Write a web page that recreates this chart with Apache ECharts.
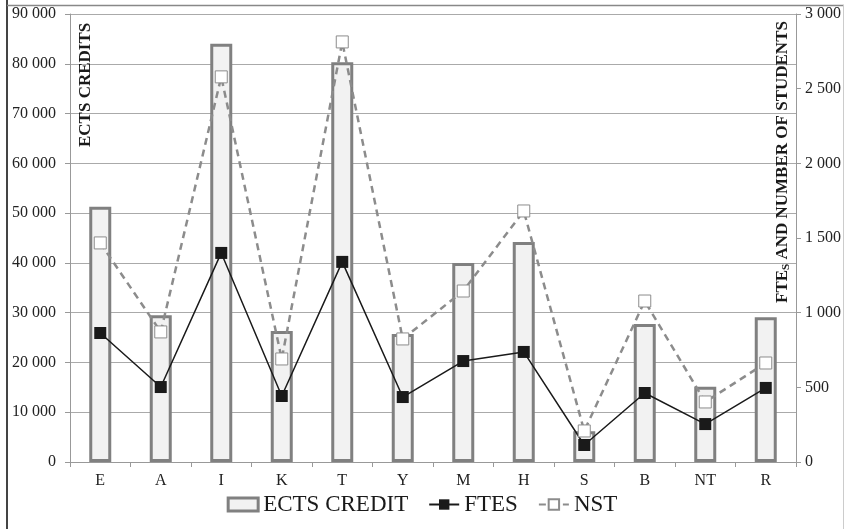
<!DOCTYPE html>
<html><head><meta charset="utf-8">
<script src="https://cdn.jsdelivr.net/npm/echarts@6/dist/echarts.min.js"></script>
<style>html,body{margin:0;padding:0;background:#fff}#c{width:844px;height:529px}</style>
</head><body><div id="c"></div>
<script>
const categories = ['E','A','I','K','T','Y','M','H','S','B','NT','R'];
const ectsCredits = [51300, 29500, 84000, 26300, 80300, 25700, 40000, 44200, 6200, 27700, 15100, 29100];
const ftes = [864, 502, 1400, 442, 1340, 435, 676, 737, 114, 462, 254, 496];
const nst = [1467, 871, 2579, 690, 2813, 824, 1145, 1681, 208, 1078, 402, 663];
const leftTicks = [0, 90000, 10000];
const rightTicks = [0, 3000, 500];

const F = 'Liberation Serif, Times New Roman, serif';
const fmt = v => String(v).replace(/\B(?=(\d{3})+(?!\d))/g, ' ');

const chart = echarts.init(document.getElementById('c'), null, {renderer: 'canvas'});
chart.setOption({
  animation: false,
  backgroundColor: '#fff',
  grid: {left: 70, right: 48, top: 14, bottom: 67},
  legend: {
    bottom: 8, left: 'center', itemGap: 20, itemWidth: 30, itemHeight: 13,
    textStyle: {fontFamily: F, fontSize: 23, color: '#1a1a1a'},
    data: [
      {name: 'ECTS CREDIT', icon: 'rect', itemStyle: {color: '#f2f2f2', borderColor: '#808080', borderWidth: 3}},
      {name: 'FTES'},
      {name: 'NST'}
    ]
  },
  xAxis: {
    type: 'category', data: categories,
    axisLine: {lineStyle: {color: '#999', width: 1}},
    axisTick: {show: true, length: 5, lineStyle: {color: '#999'}},
    axisLabel: {fontFamily: F, fontSize: 16, color: '#222', margin: 11}
  },
  yAxis: [
    {
      type: 'value', min: leftTicks[0], max: leftTicks[1], interval: leftTicks[2],
      axisLine: {show: true, lineStyle: {color: '#999'}},
      axisTick: {show: true, length: 5, lineStyle: {color: '#999'}},
      axisLabel: {fontFamily: F, fontSize: 16, color: '#222', margin: 14, formatter: fmt},
      splitLine: {lineStyle: {color: '#aaa', width: 1}}
    },
    {
      type: 'value', min: rightTicks[0], max: rightTicks[1], interval: rightTicks[2],
      axisLine: {show: true, lineStyle: {color: '#999'}},
      axisTick: {show: true, length: 5, lineStyle: {color: '#999'}},
      axisLabel: {fontFamily: F, fontSize: 16, color: '#222', margin: 9, formatter: fmt},
      splitLine: {show: false}
    }
  ],
  series: [
    {
      name: 'ECTS CREDIT', type: 'bar', data: ectsCredits, barWidth: 22, yAxisIndex: 0,
      itemStyle: {color: '#f2f2f2', borderColor: '#808080', borderWidth: 3}
    },
    {
      name: 'NST', type: 'line', data: nst, yAxisIndex: 1,
      symbol: 'rect', symbolSize: 12,
      lineStyle: {color: '#8c8c8c', width: 2.5, type: [7, 5]},
      itemStyle: {color: '#fff', borderColor: '#8c8c8c', borderWidth: 1}
    },
    {
      name: 'FTES', type: 'line', data: ftes, yAxisIndex: 1,
      symbol: 'rect', symbolSize: 12,
      lineStyle: {color: '#1a1a1a', width: 1.5},
      itemStyle: {color: '#1a1a1a', borderColor: '#1a1a1a', borderWidth: 0}
    }
  ],
  graphic: [
    {type: 'line', shape: {x1: 7, y1: 0, x2: 7, y2: 529}, style: {stroke: '#444', lineWidth: 2}, z: 100},
    {type: 'line', shape: {x1: 7, y1: 5.5, x2: 844, y2: 5.5}, style: {stroke: '#888', lineWidth: 1.5}, z: 100},
    {type: 'line', shape: {x1: 843.5, y1: 5, x2: 843.5, y2: 529}, style: {stroke: '#ccc', lineWidth: 1}, z: 100},
    {type: 'text', x: 77, y: 147, rotation: Math.PI / 2,
      style: {text: 'ECTS CREDITS', font: 'bold 17px ' + F, fill: '#1a1a1a', textAlign: 'left', textVerticalAlign: 'top'}, z: 100},
    {type: 'text', x: 774, y: 303, rotation: Math.PI / 2,
      style: {text: '{b|FTE}{s|S}{b| AND NUMBER OF STUDENTS}', textAlign: 'left', textVerticalAlign: 'top',
        rich: {b: {font: 'bold 17px ' + F, fill: '#1a1a1a', color: '#1a1a1a'},
               s: {font: 'bold 11px ' + F, fill: '#1a1a1a', color: '#1a1a1a', verticalAlign: 'bottom', padding: [7, 0, 0, 0]}}}, z: 100}
  ]
});
</script></body></html>
